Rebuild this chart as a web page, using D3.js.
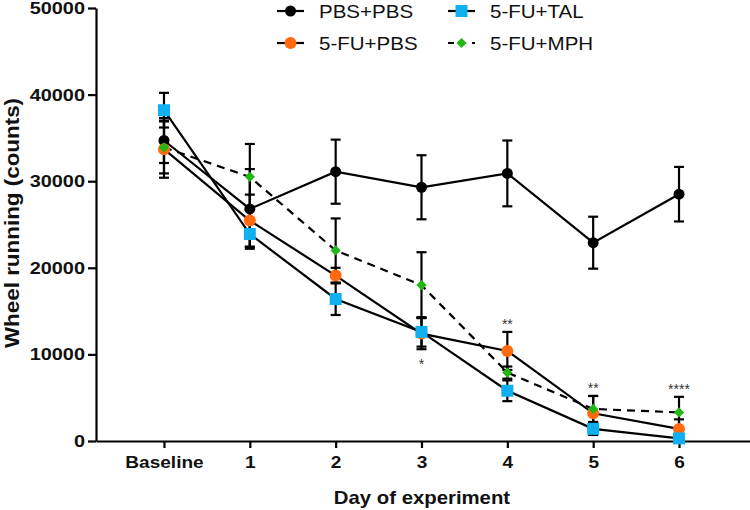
<!DOCTYPE html>
<html>
<head>
<meta charset="utf-8">
<script src="https://cdn.jsdelivr.net/npm/d3@7"></script>
<style>
    body { margin: 0; background: #fff; }
    text { font-family: "Liberation Sans", Arial, sans-serif; }
</style>
</head>
<body>
<div id="chart" style="width:750px;height:510px"></div>
<script>
// values
const days = ["Baseline", "1", "2", "3", "4", "5", "6"];
const yTicks = [0, 10000, 20000, 30000, 40000, 50000];

const pbsPbs = [34700, 26800, 31100, 29300, 30900, 22900, 28500];
const pbsPbsErr = [2600, 4600, 3700, 3700, 3800, 3000, 3150];
const fuPbs = [33700, 25450, 19100, 12400, 10400, 3200, 1400];
const fuPbsErr = [3300, 3000, 900, 1800, 2200, 2000, 1100];
const fuTal = [38200, 23900, 16400, 12600, 5800, 1400, 300];
const fuTalErr = [2000, 1500, 1850, 1700, 1200, 700, 300];
const fuMph = [33900, 30500, 22000, 18000, 7900, 3700, 3300];
const fuMphErr = [3000, 3800, 3700, 3800, 700, 1500, 1800];

const sigLabels = ["", "", "", "*", "**", "**", "****"];
const sigSide = ["", "", "", "below", "above", "above", "above"];

const series = [
    {name: "PBS+PBS", values: pbsPbs, err: pbsPbsErr, color: "#000000", shape: "circle", r: 5.5, dash: null},
    {name: "5-FU+PBS", values: fuPbs, err: fuPbsErr, color: "#ff6a10", shape: "circle", r: 6, dash: null},
    {name: "5-FU+TAL", values: fuTal, err: fuTalErr, color: "#10b0f0", shape: "square", r: 6, dash: null},
    {name: "5-FU+MPH", values: fuMph, err: fuMphErr, color: "#22b814", shape: "diamond", r: 5.5, dash: "8,6"}
];

const width = 750, height = 510;
const svg = d3.select("#chart").append("svg")
    .attr("width", width)
    .attr("height", height);

// the original type is a little wider than Arial
const stretch = function (sel, k) {
    sel.each(function () {
        const w = this.getComputedTextLength();
        d3.select(this).attr("textLength", w * k).attr("lengthAdjust", "spacingAndGlyphs");
    });
};

const x = d3.scaleLinear()
    .domain([-0.792, 6.827])
    .range([96, 750]);
const y = d3.scaleLinear()
    .domain([0, 50000])
    .range([441, 8]);

// axes
const xAxis = svg.append("g")
    .attr("transform", "translate(0," + y(0) + ")")
    .call(d3.axisBottom(x)
        .tickValues(d3.range(days.length))
        .tickFormat(function (d) { return days[d]; })
        .tickSize(7)
        .tickSizeOuter(0)
        .tickPadding(8));
xAxis.selectAll("text")
    .style("font-size", "17px")
    .style("font-weight", "bold")
    .attr("fill", "#111")
    .call(stretch, 1.12);

const yAxis = svg.append("g")
    .attr("transform", "translate(" + x.range()[0] + ",0)")
    .call(d3.axisLeft(y)
        .tickValues(yTicks)
        .tickFormat(d3.format("d"))
        .tickSize(8)
        .tickSizeOuter(0)
        .tickPadding(3));
yAxis.selectAll("text")
    .style("font-size", "17px")
    .style("font-weight", "bold")
    .attr("fill", "#111")
    .call(stretch, 1.17);

svg.selectAll(".domain, .tick line")
    .attr("stroke", "#000")
    .attr("stroke-width", 2.2);

svg.append("text")
    .attr("transform", "translate(19,223)rotate(-90)")
    .attr("text-anchor", "middle")
    .style("font-size", "20px")
    .style("font-weight", "bold")
    .attr("fill", "#111")
    .text("Wheel running (counts)")
    .call(stretch, 1.12);

svg.append("text")
    .attr("x", 422)
    .attr("y", 504)
    .attr("text-anchor", "middle")
    .style("font-size", "19px")
    .style("font-weight", "bold")
    .attr("fill", "#111")
    .text("Day of experiment")
    .call(stretch, 1.07);

const symbolFor = function (s) {
    if (s.shape === "square") return d3.symbol().type(d3.symbolSquare).size((s.r * 2) * (s.r * 2));
    if (s.shape === "diamond") return d3.symbol().type(d3.symbolDiamond2).size(s.r * s.r * 2.2);
    return d3.symbol().type(d3.symbolCircle).size(Math.PI * s.r * s.r);
};

// error bars
series.forEach(function (s) {
    const g = svg.append("g");
    s.values.forEach(function (v, i) {
        const cx = x(i);
        const top = y(v + s.err[i]), bot = y(v - s.err[i]);
        g.append("line").attr("x1", cx).attr("x2", cx).attr("y1", top).attr("y2", bot);
        g.append("line").attr("x1", cx - 5).attr("x2", cx + 5).attr("y1", top).attr("y2", top);
        g.append("line").attr("x1", cx - 5).attr("x2", cx + 5).attr("y1", bot).attr("y2", bot);
    });
    g.selectAll("line").attr("stroke", "#000").attr("stroke-width", 2.2);
});

// lines
const line = d3.line()
    .x(function (d, i) { return x(i); })
    .y(function (d) { return y(d); });

series.forEach(function (s) {
    svg.append("path")
        .datum(s.values)
        .attr("d", line)
        .attr("fill", "none")
        .attr("stroke", "#000")
        .attr("stroke-width", 2.2)
        .attr("stroke-dasharray", s.dash);
});

// markers
series.forEach(function (s) {
    svg.append("g").selectAll("path")
        .data(s.values)
        .enter()
        .append("path")
        .attr("d", symbolFor(s))
        .attr("transform", function (d, i) { return "translate(" + x(i) + "," + y(d) + ")"; })
        .attr("fill", s.color);
});

// significance stars
sigLabels.forEach(function (lab, i) {
    if (!lab) return;
    const treated = series.slice(1);
    let ty;
    if (sigSide[i] === "above") {
        const hi = d3.max(treated, function (s) { return s.values[i] + s.err[i]; });
        ty = y(hi) - 3;
    } else {
        const lo = d3.min(treated, function (s) { return s.values[i] - s.err[i]; });
        ty = y(lo) + 20;
    }
    svg.append("text")
        .attr("x", x(i))
        .attr("y", ty)
        .attr("text-anchor", "middle")
        .style("font-size", "14px")
        .attr("fill", "#333")
        .text(lab);
});

// legend
const legendRows = [
    [series[0], series[2]],
    [series[1], series[3]]
];
const legX = [277, 448], legY = [11, 43];
legendRows.forEach(function (row, r) {
    row.forEach(function (s, c) {
        const g = svg.append("g").attr("transform", "translate(" + legX[c] + "," + legY[r] + ")");
        g.append("line")
            .attr("x1", 0).attr("x2", 27)
            .attr("stroke", "#000")
            .attr("stroke-width", 2.2)
            .attr("stroke-dasharray", s.dash ? "6,6" : null);
        g.append("path")
            .attr("d", symbolFor(s))
            .attr("transform", "translate(13.5,0)")
            .attr("fill", s.color);
        g.append("text")
            .attr("x", 42)
            .attr("y", 0)
            .attr("dy", "0.35em")
            .style("font-size", "19px")
            .attr("fill", "#111")
            .text(s.name)
            .call(stretch, 1.08);
    });
});
</script>
</body>
</html>
